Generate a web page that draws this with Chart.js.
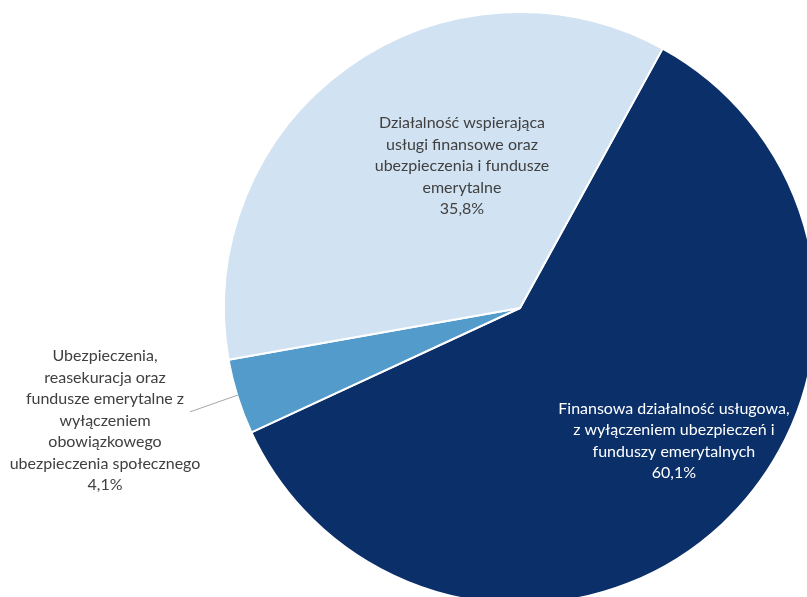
<!DOCTYPE html>
<html>
<head>
<meta charset="utf-8">
<script src="https://cdn.jsdelivr.net/npm/chart.js@4/dist/chart.umd.min.js"></script>
<style>
  html, body { margin: 0; padding: 0; background: #fff; overflow: hidden; }
  #wrap { position: absolute; left: 0; top: 0; width: 900px; height: 700px; }
</style>
</head>
<body>
<div id="wrap"><canvas id="pie" width="900" height="700"></canvas></div>
<script>
// categories (already broken into lines the way the original wraps them)
const categories = [
    ['Finansowa działalność usługowa,', 'z wyłączeniem ubezpieczeń i', 'funduszy emerytalnych'],
    ['Ubezpieczenia,', 'reasekuracja oraz', 'fundusze emerytalne z', 'wyłączeniem', 'obowiązkowego', 'ubezpieczenia społecznego'],
    ['Działalność wspierająca', 'usługi finansowe oraz', 'ubezpieczenia i fundusze', 'emerytalne']
];
const shares = [60.1, 4.1, 35.8];
const sliceColors = ['#0b2f69', '#529bcb', '#d1e2f2'];
const labelColors = ['#ffffff', '#404040', '#404040'];

// where each label block sits, as fractions of the radius from the pie centre
const labelPlacement = [
    { dx: 0.52, dy: 0.448 },
    { dx: -1.402, dy: 0.38, leader: [-1.115, 0.351, -0.953, 0.294] },
    { dx: -0.196, dy: -0.48 }
];

const pieLabels = {
    id: 'pieLabels',
    afterDatasetsDraw(chart) {
        const ctx = chart.ctx;
        const arcs = chart.getDatasetMeta(0).data;
        ctx.save();
        ctx.font = '16px Lato, "Liberation Sans", sans-serif';
        ctx.textAlign = 'center';
        ctx.textBaseline = 'middle';
        arcs.forEach((arc, i) => {
            const r = arc.outerRadius;
            const p = labelPlacement[i];
            if (p.leader) {
                ctx.strokeStyle = '#a6a6a6';
                ctx.lineWidth = 1;
                ctx.beginPath();
                ctx.moveTo(arc.x + p.leader[0] * r, arc.y + p.leader[1] * r);
                ctx.lineTo(arc.x + p.leader[2] * r, arc.y + p.leader[3] * r);
                ctx.stroke();
            }
            const lines = categories[i].concat([shares[i].toFixed(1).replace('.', ',') + '%']);
            const lh = 21.5;
            const cx = arc.x + p.dx * r;
            const cy = arc.y + p.dy * r;
            ctx.fillStyle = labelColors[i];
            lines.forEach((t, k) => {
                ctx.fillText(t, cx, cy + (k - (lines.length - 1) / 2) * lh);
            });
        });
        ctx.restore();
    }
};

new Chart(document.getElementById('pie'), {
    type: 'pie',
    data: {
        labels: categories,
        datasets: [{
            data: shares,
            backgroundColor: sliceColors,
            borderColor: '#ffffff',
            borderWidth: 2
        }]
    },
    options: {
        responsive: false,
        animation: false,
        rotation: 28.8,
        radius: 296,
        layout: { padding: { left: 220, right: 80, top: 8, bottom: 92 } },
        plugins: {
            legend: { display: false },
            tooltip: { enabled: false }
        }
    },
    plugins: [pieLabels]
});
</script>
</body>
</html>
